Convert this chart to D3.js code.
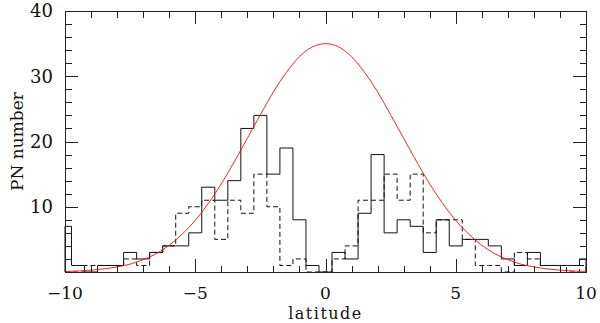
<!DOCTYPE html>
<html>
<head>
<meta charset="utf-8">
<script src="https://cdn.jsdelivr.net/npm/d3@7"></script>
<style>
  body { margin: 0; background: #fff; }
  .axis path, .axis line { stroke: #222; stroke-width: 1; shape-rendering: crispEdges; }
  .lab { font-family: "DejaVu Serif", "Liberation Serif", serif; fill: #111; }
</style>
</head>
<body>
<div id="chart"></div>
<script>
// bin centres (bins are 0.5 wide, edges clipped at -10 and 10)
var binCenters = [-10, -9.5, -9, -8.5, -8, -7.5, -7, -6.5, -6, -5.5, -5, -4.5, -4, -3.5, -3, -2.5, -2, -1.5, -1, -0.5,
                  0, 0.5, 1, 1.5, 2, 2.5, 3, 3.5, 4, 4.5, 5, 5.5, 6, 6.5, 7, 7.5, 8, 8.5, 9, 9.5, 10];
// solid histogram
var solidCounts = [7, 1, 0, 1, 1, 3, 2, 3, 4, 4, 6, 13, 11, 14, 22, 24, 15, 19, 8, 1,
                   0, 3, 2, 9, 18, 6, 8, 7, 3, 8, 4, 5, 5, 4, 2, 1, 3, 1, 1, 1, 2];
// dashed histogram
var dashedCounts = [0, 0, 1, 1, 1, 2, 1, 3, 4, 9, 10, 11, 5, 11, 9, 15, 10, 1, 2, 0,
                    0, 2, 4, 11, 11, 15, 11, 15, 6, 8, 8, 5, 1, 1, 0, 3, 2, 1, 1, 0, 1];
// red fitted curve, read at the bin centres
var fitCurve = [0.09, 0.16, 0.28, 0.48, 0.78, 1.2, 1.9, 2.8, 4.1, 5.8, 7.9, 10.5, 13.5, 16.9, 20.5, 24.1, 27.6, 30.6, 33.0, 34.5,
                35, 34.5, 33.0, 30.6, 27.6, 24.1, 20.5, 16.9, 13.5, 10.5, 7.9, 5.8, 4.1, 2.8, 1.9, 1.2, 0.78, 0.48, 0.28, 0.16, 0.09];

var xMajorTicks = [-10, -5, 0, 5, 10];
var xMinorTicks = [-9, -8, -7, -6, -4, -3, -2, -1, 1, 2, 3, 4, 6, 7, 8, 9];
var yMajorTicks = [10, 20, 30, 40];
var yMinorTicks = [2, 4, 6, 8, 12, 14, 16, 18, 22, 24, 26, 28, 32, 34, 36, 38];
var binWidth = 0.5;

var margin = {top: 11, left: 65, right: 14, bottom: 51},
    width = 600 - margin.left - margin.right,
    height = 323 - margin.top - margin.bottom;

var svg = d3.select("#chart").append("svg")
    .attr("width", 600)
    .attr("height", 323)
  .append("g")
    .attr("transform", "translate(" + margin.left + "," + margin.top + ")");

var x = d3.scaleLinear().domain([-10, 10]).range([0, width]);
var y = d3.scaleLinear().domain([0, 40]).range([height, 0]);

// step outline of a histogram
function steps(counts) {
  var pts = [[-10, 0]];
  counts.forEach(function(v, i) {
    var lo = Math.max(-10, binCenters[i] - binWidth / 2),
        hi = Math.min(10, binCenters[i] + binWidth / 2);
    pts.push([lo, v]);
    pts.push([hi, v]);
  });
  pts.push([10, 0]);
  return pts;
}

var stepLine = d3.line()
    .x(function(d) { return x(d[0]); })
    .y(function(d) { return y(d[1]); });

svg.append("path")
    .attr("d", stepLine(steps(dashedCounts)))
    .attr("fill", "none")
    .attr("stroke", "#111")
    .attr("stroke-width", 1)
    .attr("stroke-dasharray", "5,3");

svg.append("path")
    .attr("d", stepLine(steps(solidCounts)))
    .attr("fill", "none")
    .attr("stroke", "#111")
    .attr("stroke-width", 1);

var fitLine = d3.line()
    .x(function(d, i) { return x(binCenters[i]); })
    .y(function(d) { return y(d); })
    .curve(d3.curveCatmullRom);

svg.append("path")
    .attr("d", fitLine(fitCurve))
    .attr("fill", "none")
    .attr("stroke", "#ee1111")
    .attr("stroke-width", 0.9);

// frame + inward ticks on all four sides
var major = 13, minor = 6.5;
function addAxis(axisFn, scale, vals, size, tr) {
  svg.append("g").attr("class", "axis")
    .attr("transform", tr)
    .call(axisFn(scale).tickValues(vals).tickSizeInner(-size).tickSizeOuter(0).tickFormat(""));
}
addAxis(d3.axisBottom, x, xMajorTicks, major, "translate(0," + height + ")");
addAxis(d3.axisBottom, x, xMinorTicks, minor, "translate(0," + height + ")");
addAxis(d3.axisTop, x, xMajorTicks, major, "translate(0,0)");
addAxis(d3.axisTop, x, xMinorTicks, minor, "translate(0,0)");
addAxis(d3.axisLeft, y, yMajorTicks, major, "translate(0,0)");
addAxis(d3.axisLeft, y, yMinorTicks, minor, "translate(0,0)");
addAxis(d3.axisRight, y, yMajorTicks, major, "translate(" + width + ",0)");
addAxis(d3.axisRight, y, yMinorTicks, minor, "translate(" + width + ",0)");

// tick labels
svg.selectAll(".xlab").data(xMajorTicks).enter().append("text")
    .attr("class", "lab")
    .attr("x", function(d) { return x(d); })
    .attr("y", height + 27)
    .attr("text-anchor", "middle")
    .style("font-size", "17px")
    .text(function(d) { return d < 0 ? "\u2212" + Math.abs(d) : d; });

svg.selectAll(".ylab").data(yMajorTicks).enter().append("text")
    .attr("class", "lab")
    .attr("x", -12)
    .attr("y", function(d) { return y(d); })
    .attr("dy", "0.36em")
    .attr("text-anchor", "end")
    .style("font-size", "18px")
    .text(function(d) { return d; });

svg.append("text")
    .attr("class", "lab")
    .attr("x", width / 2)
    .attr("y", height + 47)
    .attr("text-anchor", "middle")
    .style("font-size", "16px")
    .style("letter-spacing", "1.5px")
    .text("latitude");

svg.append("text")
    .attr("class", "lab")
    .attr("transform", "translate(" + (-42) + "," + (height / 2) + ") rotate(-90)")
    .attr("text-anchor", "middle")
    .style("font-size", "17px")
    .text("PN number");
</script>
</body>
</html>
